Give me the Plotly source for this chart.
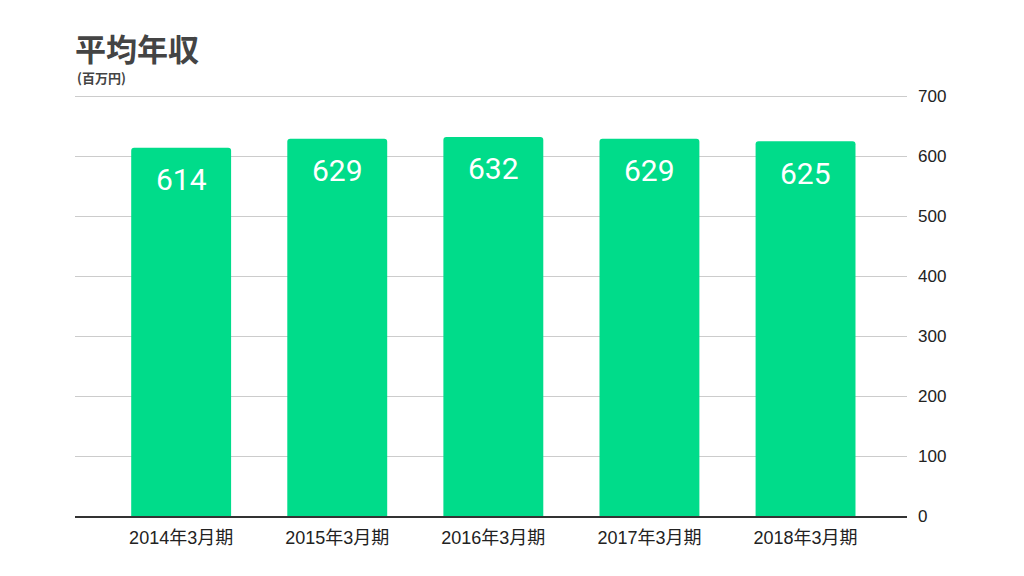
import plotly.graph_objects as go

categories = ["2014年3月期", "2015年3月期", "2016年3月期", "2017年3月期", "2018年3月期"]
values = [614, 629, 632, 629, 625]
y_ticks = [0, 100, 200, 300, 400, 500, 600, 700]

LABEL_FONT = "Roboto, 'Noto Sans CJK JP', sans-serif"
AXIS_FONT = "'Liberation Sans', Arial, 'Noto Sans CJK JP', sans-serif"
CJK = "'Noto Sans CJK JP', sans-serif"

L, R, T, B = 75, 117, 95, 60
W, H = 1024, 576
YMAX = 702

fig = go.Figure(go.Bar(
    x=list(range(len(categories))),
    y=values,
    marker=dict(color="#00DC8A", line=dict(width=0)),
    width=0.64,
    hoverinfo="x+y",
))

anns = []
for i, v in enumerate(values):
    anns.append(dict(x=i, y=v, xref="x", yref="y", text=str(v), showarrow=False,
                     yanchor="middle", yshift=-32,
                     font=dict(size=30, color="white", family=LABEL_FONT)))

plot_h = H - T - B
def paper_y(py):
    return (H - B - py) / plot_h

anns.append(dict(text="<b>平均年収</b>", xref="paper", yref="paper", x=-0.002, y=paper_y(47),
                 xanchor="left", yanchor="middle", showarrow=False,
                 font=dict(size=31, color="#444", family=CJK)))
anns.append(dict(text="<b>(百万円)</b>", xref="paper", yref="paper", x=0, y=paper_y(77),
                 xanchor="left", yanchor="middle", showarrow=False,
                 font=dict(size=13, color="#444", family=CJK)))

fig.update_layout(
    width=W, height=H,
    margin=dict(l=L, r=R, t=T, b=B),
    paper_bgcolor="white", plot_bgcolor="white",
    barcornerradius=3,
    showlegend=False,
    font=dict(family=AXIS_FONT, color="#333"),
    annotations=anns,
)

fig.update_xaxes(
    tickmode="array", tickvals=list(range(len(categories))), ticktext=categories,
    range=[-0.68, 4.65], showgrid=False, zeroline=False,
    showline=True, linecolor="#333", linewidth=1.5,
    tickfont=dict(size=18, color="#222", family=AXIS_FONT),
    ticks="", ticklen=0, ticklabelstandoff=5,
)
fig.update_yaxes(
    side="right", range=[0, YMAX], tickvals=y_ticks,
    showgrid=True, gridcolor="#cccccc", gridwidth=1, zeroline=False,
    tickfont=dict(size=17, color="#222", family=AXIS_FONT), ticklabelstandoff=10,
)

fig.write_html("out.html")
